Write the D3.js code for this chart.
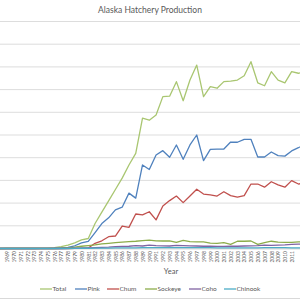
<!DOCTYPE html>
<html>
<head>
<meta charset="utf-8">
<script src="https://cdn.jsdelivr.net/npm/d3@7"></script>
<style>
  body { margin: 0; background: #fff; }
  svg { display: block; font-family: Lato, "Open Sans", sans-serif; }
</style>
</head>
<body>
<svg id="chart" width="300" height="300"></svg>
<script>
'use strict';
/* Alaska Hatchery Production - line chart, values in millions */

var years = d3.range(1966, 2014);

var total = [0, 0, 0, 0.1, 0.1, 0.1, 0.1, 0.1, 0.2, 0.2,
  0.4, 0.8, 1.5, 2.5, 3.8, 4.4, 11, 16, 21, 26,
  31, 36.8, 41.9, 57.4, 56.5, 58.8, 66.9, 67.1, 73.5, 65.1,
  74.2, 80.8, 66.9, 71.3, 70.6, 73.5, 73.7, 74.2, 76.1, 82.3,
  73.0, 71.7, 77.9, 74.2, 73.0, 77.9, 77.2, 78];
var pink = [0, 0, 0, 0, 0, 0, 0, 0, 0.05, 0.05,
  0.1, 0.3, 0.5, 1.2, 2.5, 3.1, 7, 11, 13.5, 17,
  18.2, 24.4, 22.2, 36.8, 34.8, 41.2, 43.1, 40.2, 45.6, 39.3,
  45.6, 50.0, 38.7, 43.7, 43.8, 43.8, 46.9, 46.8, 48.1, 48.1,
  40.3, 40.3, 42.5, 40.9, 40.7, 43.0, 44.4, 46];
var chum = [0, 0, 0, 0, 0, 0, 0, 0, 0, 0,
  0, 0, 0, 0.05, 0.1, 0.2, 2.3, 3.4, 5.2, 5.5,
  9.9, 9.3, 15.2, 14.8, 16.2, 12.6, 18.7, 21.1, 23.1, 20.2,
  23.1, 26.1, 24.0, 23.6, 23.1, 25.0, 23.3, 22.6, 23.3, 28.4,
  28.4, 27.0, 29.4, 28.0, 27.0, 29.9, 28.4, 29];
var sockeye = [0, 0, 0, 0, 0, 0, 0, 0, 0, 0,
  0, 0.1, 0.3, 0.6, 1.0, 1.3, 1.6, 2.0, 2.3, 2.6,
  2.8, 3.0, 3.2, 3.5, 3.7, 3.4, 3.3, 3.4, 2.7, 3.6,
  3.0, 2.9, 2.9, 2.4, 2.3, 2.6, 1.8, 3.2, 3.2, 3.3,
  1.8, 2.6, 3.2, 2.8, 2.7, 2.7, 2.9, 2.9];
var coho = [0, 0, 0, 0, 0, 0, 0, 0, 0, 0,
  0, 0, 0.05, 0.1, 0.2, 0.3, 0.4, 0.5, 0.6, 0.8,
  0.9, 1.0, 1.3, 1.1, 1.5, 1.3, 1.2, 1.1, 1.4, 1.3,
  1.2, 1.1, 1.0, 1.0, 0.9, 0.9, 1.0, 1.0, 1.1, 1.2,
  1.3, 1.5, 1.4, 1.5, 1.6, 1.8, 1.9, 2.0];
var chinook = [0, 0, 0, 0, 0, 0, 0, 0, 0, 0,
  0, 0, 0, 0.05, 0.1, 0.1, 0.15, 0.2, 0.2, 0.25,
  0.3, 0.3, 0.3, 0.35, 0.4, 0.4, 0.4, 0.35, 0.4, 0.4,
  0.4, 0.35, 0.35, 0.35, 0.3, 0.3, 0.3, 0.3, 0.3, 0.3,
  0.3, 0.35, 0.35, 0.35, 0.35, 0.3, 0.3, 0.3];

var seriesNames = ['Total', 'Pink', 'Chum', 'Sockeye', 'Coho', 'Chinook'];
var seriesValues = [total, pink, chum, sockeye, coho, chinook];
var seriesColors = ['#a9c671', '#4f81bd', '#c0504d', '#8cac4b', '#8064a2', '#4bacc6'];

var yTicks = d3.range(0, 101, 10);

// the plot area is wider than the window, the picture is a crop of a bigger chart
var plot = { left: -13.4, right: 305.2, top: 21.5, bottom: 248.5 };

var svg = d3.select('#chart');

var x = d3.scalePoint().domain(years).range([plot.left, plot.right]);
var y = d3.scaleLinear().domain([0, 100]).range([plot.bottom, plot.top]);

// gridlines
svg.append('g')
  .selectAll('line')
  .data(yTicks)
  .enter()
  .append('line')
    .attr('x1', 0).attr('x2', 300)
    .attr('y1', d => y(d)).attr('y2', d => y(d))
    .attr('stroke', '#d9d9d9')
    .attr('stroke-width', 0.9);

// x axis labels, rotated (only the ones that fit in the window)
var shownYears = years.filter(d => x(d) > 3 && x(d) < 297);
var xAxis = svg.append('g')
  .attr('transform', 'translate(0,' + plot.bottom + ')')
  .call(d3.axisBottom(x).tickValues(shownYears).tickSize(0).tickPadding(0));
xAxis.select('.domain').attr('stroke', '#d9d9d9');
xAxis.selectAll('text')
  .attr('transform', 'rotate(-90)')
  .attr('x', -2.5).attr('y', 0).attr('dy', '0.35em')
  .attr('text-anchor', 'end')
  .attr('fill', '#595959')
  .attr('font-size', 5)
  .attr('font-family', 'Lato, sans-serif');

// lines
var line = d3.line()
  .x((d, i) => x(years[i]))
  .y(d => y(d));

svg.append('g')
  .selectAll('path')
  .data(seriesValues)
  .enter()
  .append('path')
    .attr('d', d => line(d))
    .attr('fill', 'none')
    .attr('stroke', (d, i) => seriesColors[i])
    .attr('stroke-width', 1.3)
    .attr('stroke-linejoin', 'round');

// title
svg.append('text')
  .attr('x', 150).attr('y', 13)
  .attr('text-anchor', 'middle')
  .attr('fill', '#595959')
  .attr('font-size', 8.5)
  .text('Alaska Hatchery Production');

// axis title
svg.append('text')
  .attr('x', 171).attr('y', 274)
  .attr('text-anchor', 'middle')
  .attr('fill', '#595959')
  .attr('font-size', 7.5)
  .text('Year');

// legend
var legendX = [40, 75, 107, 145, 189, 224];
var legend = svg.append('g').selectAll('g')
  .data(seriesNames)
  .enter()
  .append('g')
    .attr('transform', (d, i) => 'translate(' + legendX[i] + ',289)');
legend.append('line')
  .attr('x1', 0).attr('x2', 12)
  .attr('stroke', (d, i) => seriesColors[i])
  .attr('stroke-width', 1.3);
legend.append('text')
  .attr('x', 12.5).attr('dy', '0.35em')
  .attr('fill', '#595959')
  .attr('font-size', 6.5)
  .text(d => d);

// chart border at the bottom
svg.append('line')
  .attr('x1', 0).attr('x2', 300)
  .attr('y1', 298.5).attr('y2', 298.5)
  .attr('stroke', '#d9d9d9')
  .attr('stroke-width', 1);
</script>
</body>
</html>
